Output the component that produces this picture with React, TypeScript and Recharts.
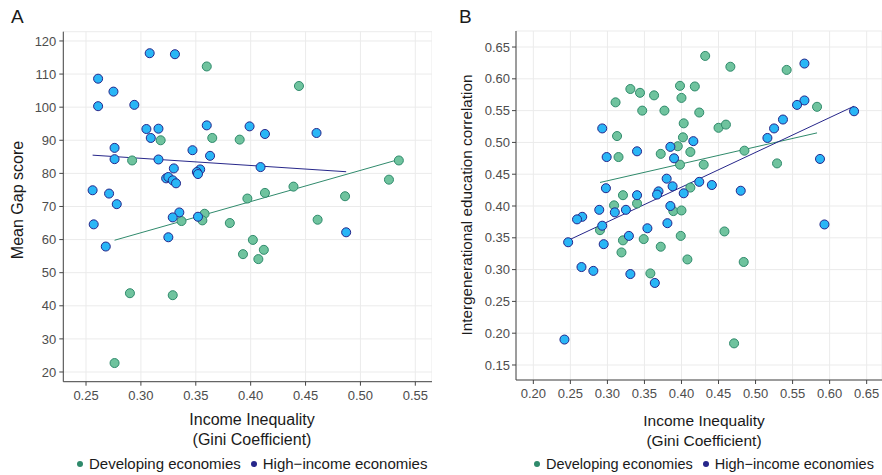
import {
  CartesianGrid,
  ReferenceLine,
  Scatter,
  ScatterChart,
  XAxis,
  YAxis,
} from "recharts";

// Panel A: Gini vs mean gap score
const giniDevA = [
  0.36, 0.444, 0.318, 0.365, 0.39, 0.292, 0.535, 0.526, 0.439, 0.413, 0.397, 0.486,
  0.358, 0.356, 0.337, 0.381, 0.461, 0.402, 0.393, 0.412, 0.407, 0.29, 0.329, 0.276,
];
const gapDevA = [
  112.3, 106.4, 90.0, 90.7, 90.2, 83.9, 83.9, 78.1, 76.0, 74.1, 72.4, 73.1,
  67.8, 65.8, 65.6, 65.0, 66.0, 59.9, 55.6, 56.9, 54.1, 43.8, 43.2, 22.7,
];
const giniHighA = [
  0.308, 0.331, 0.261, 0.275, 0.261, 0.294, 0.305, 0.316, 0.309, 0.36, 0.399, 0.413,
  0.46, 0.276, 0.276, 0.316, 0.347, 0.363, 0.33, 0.409, 0.354, 0.351, 0.352, 0.323,
  0.325, 0.329, 0.332, 0.256, 0.271, 0.278, 0.335, 0.329, 0.352, 0.257, 0.325, 0.487,
  0.268,
];
const gapHighA = [
  116.3, 116.0, 108.6, 104.7, 100.3, 100.7, 93.4, 93.5, 90.7, 94.5, 94.2, 91.9,
  92.2, 87.7, 84.3, 84.2, 87.0, 85.3, 81.5, 81.9, 81.2, 80.4, 79.8, 78.5,
  78.9, 77.9, 77.0, 74.9, 73.9, 70.7, 68.2, 66.7, 66.9, 64.6, 60.7, 62.2,
  57.9,
];
const fitDevA = [
  { x: 0.276, y: 59.8 },
  { x: 0.535, y: 84.2 },
];
const fitHighA = [
  { x: 0.256, y: 85.5 },
  { x: 0.487, y: 80.5 },
];
const xTicksA = [0.25, 0.3, 0.35, 0.4, 0.45, 0.5, 0.55];
const yTicksA = [20, 30, 40, 50, 60, 70, 80, 90, 100, 110, 120];

// Panel B: Gini vs intergenerational education correlation
const giniDevB = [
  0.432, 0.466, 0.542, 0.331, 0.344, 0.363, 0.398, 0.418, 0.4, 0.311, 0.347, 0.377,
  0.424, 0.583, 0.403, 0.45, 0.46, 0.313, 0.402, 0.395, 0.315, 0.372, 0.412, 0.485,
  0.398, 0.43, 0.529, 0.412, 0.321, 0.34, 0.309, 0.389, 0.4, 0.458, 0.399, 0.29,
  0.321, 0.349, 0.319, 0.372, 0.408, 0.358, 0.484, 0.471,
];
const corrDevB = [
  0.636, 0.619, 0.614, 0.584, 0.578, 0.574, 0.589, 0.588, 0.57, 0.563, 0.55, 0.55,
  0.547, 0.556, 0.53, 0.523, 0.528, 0.51, 0.508, 0.494, 0.477, 0.482, 0.485, 0.487,
  0.465, 0.465, 0.467, 0.429, 0.417, 0.404, 0.401, 0.392, 0.393, 0.36, 0.353, 0.362,
  0.346, 0.348, 0.327, 0.336, 0.316, 0.294, 0.312, 0.184,
];
const giniHighB = [
  0.566, 0.566, 0.556, 0.537, 0.525, 0.516, 0.633, 0.587, 0.293, 0.299, 0.34, 0.385,
  0.39, 0.416, 0.38, 0.424, 0.441, 0.388, 0.298, 0.369, 0.367, 0.34, 0.403, 0.48,
  0.385, 0.289, 0.325, 0.31, 0.266, 0.259, 0.293, 0.354, 0.381, 0.329, 0.593, 0.247,
  0.295, 0.265, 0.281, 0.331, 0.364, 0.242,
];
const corrHighB = [
  0.624, 0.566, 0.559, 0.536, 0.522, 0.507, 0.549, 0.474, 0.522, 0.477, 0.486, 0.493,
  0.475, 0.502, 0.443, 0.438, 0.433, 0.431, 0.428, 0.423, 0.418, 0.417, 0.42, 0.424,
  0.4, 0.394, 0.394, 0.39, 0.383, 0.379, 0.369, 0.365, 0.373, 0.353, 0.371, 0.343,
  0.34, 0.304, 0.298, 0.293, 0.279, 0.19,
];
const fitDevB = [
  { x: 0.29, y: 0.437 },
  { x: 0.583, y: 0.515 },
];
const fitHighB = [
  { x: 0.247, y: 0.346 },
  { x: 0.633, y: 0.557 },
];
const xTicksB = [0.2, 0.25, 0.3, 0.35, 0.4, 0.45, 0.5, 0.55, 0.6, 0.65];
const yTicksB = [0.15, 0.2, 0.25, 0.3, 0.35, 0.4, 0.45, 0.5, 0.55, 0.6, 0.65];

const zip = (xs: number[], ys: number[]) => xs.map((x, i) => ({ x, y: ys[i] }));

const FONT = "'Liberation Sans', Arial, Helvetica, sans-serif";
const GREEN_FILL = "#6fc39e";
const GREEN_LINE = "#2f8a6b";
const BLUE_FILL = "#29b6f6";
const BLUE_LINE = "#26268a";
const GRID = "#ebebeb";
const AXIS = "#444444";
const tick = { fill: "#4d4d4d", fontSize: 13, fontFamily: FONT };

const text = (extra: React.CSSProperties): React.CSSProperties => ({
  position: "absolute",
  fontFamily: FONT,
  color: "#1a1a1a",
  whiteSpace: "nowrap",
  ...extra,
});

function Legend({ left, size }: { left: number; size: number }) {
  const dot = (color: string): React.CSSProperties => ({
    display: "inline-block",
    width: 6,
    height: 6,
    borderRadius: 3,
    background: color,
    marginRight: 6,
    verticalAlign: "middle",
    position: "relative",
    top: -1,
  });
  return (
    <div style={text({ left, top: 455, fontSize: size, lineHeight: "18px" })}>
      <span style={dot(GREEN_LINE)} />
      Developing economies
      <span style={{ ...dot(BLUE_LINE), marginLeft: 10 }} />
      High−income economies
    </div>
  );
}

export default function App() {
  const devA = zip(giniDevA, gapDevA);
  const highA = zip(giniHighA, gapHighA);
  const devB = zip(giniDevB, corrDevB);
  const highB = zip(giniHighB, corrHighB);

  return (
    <div style={{ position: "absolute", left: 0, top: 0, width: 882, height: 475, background: "#fff" }}>
      <div style={{ position: "absolute", left: 0, top: 0 }}>
        <ScatterChart width={432} height={411.7} margin={{ top: 31.7, right: 0, bottom: 0, left: 0 }}>
          <CartesianGrid stroke={GRID} strokeWidth={1} />
          <XAxis
            type="number"
            dataKey="x"
            domain={[0.2293, 0.5652]}
            ticks={xTicksA}
            interval={0}
            allowDataOverflow
            height={30}
            tick={tick}
            tickSize={4}
            tickMargin={5}
            stroke={AXIS}
            tickFormatter={(v: number) => v.toFixed(2)}
          />
          <YAxis
            type="number"
            dataKey="y"
            domain={[17.07, 122.8]}
            ticks={yTicksA}
            interval={0}
            allowDataOverflow
            width={63.3}
            tick={tick}
            tickSize={4}
            tickMargin={3}
            stroke={AXIS}
          />
          <Scatter data={devA} fill={GREEN_FILL} stroke={GREEN_LINE} strokeWidth={1} isAnimationActive={false} />
          <Scatter data={highA} fill={BLUE_FILL} stroke={BLUE_LINE} strokeWidth={1} isAnimationActive={false} />
          <ReferenceLine segment={fitDevA} stroke={GREEN_LINE} strokeWidth={1} ifOverflow="visible" />
          <ReferenceLine segment={fitHighA} stroke={BLUE_LINE} strokeWidth={1} ifOverflow="visible" />
        </ScatterChart>
      </div>

      <div style={{ position: "absolute", left: 440, top: 0 }}>
        <ScatterChart width={442} height={410} margin={{ top: 31, right: 0, bottom: 0, left: 0 }}>
          <CartesianGrid stroke={GRID} strokeWidth={1} />
          <XAxis
            type="number"
            dataKey="x"
            domain={[0.1766, 0.6707]}
            ticks={xTicksB}
            interval={0}
            allowDataOverflow
            height={30}
            tick={tick}
            tickSize={4}
            tickMargin={5}
            stroke={AXIS}
            tickFormatter={(v: number) => v.toFixed(2)}
          />
          <YAxis
            type="number"
            dataKey="y"
            domain={[0.1264, 0.6752]}
            ticks={yTicksB}
            interval={0}
            allowDataOverflow
            width={76}
            tick={tick}
            tickSize={4}
            tickMargin={2}
            stroke={AXIS}
            tickFormatter={(v: number) => v.toFixed(2)}
          />
          <Scatter data={devB} fill={GREEN_FILL} stroke={GREEN_LINE} strokeWidth={1} isAnimationActive={false} />
          <Scatter data={highB} fill={BLUE_FILL} stroke={BLUE_LINE} strokeWidth={1} isAnimationActive={false} />
          <ReferenceLine segment={fitDevB} stroke={GREEN_LINE} strokeWidth={1} ifOverflow="visible" />
          <ReferenceLine segment={fitHighB} stroke={BLUE_LINE} strokeWidth={1} ifOverflow="visible" />
        </ScatterChart>
      </div>

      {/* panel letters */}
      <div style={text({ left: 11, top: 6, fontSize: 19, lineHeight: "22px" })}>A</div>
      <div style={text({ left: 459, top: 6, fontSize: 19, lineHeight: "22px" })}>B</div>

      {/* y titles */}
      <div
        style={text({
          left: 18,
          top: 200,
          fontSize: 16,
          lineHeight: "18px",
          transform: "translate(-50%, -50%) rotate(-90deg)",
        })}
      >
        Mean Gap score
      </div>
      <div
        style={text({
          left: 467,
          top: 205,
          fontSize: 15.3,
          lineHeight: "18px",
          transform: "translate(-50%, -50%) rotate(-90deg)",
        })}
      >
        Intergenerational education correlation
      </div>

      {/* x titles */}
      <div style={text({ left: 152, width: 200, top: 410, fontSize: 16, lineHeight: "20px", textAlign: "center" })}>
        Income Inequality
        <br />
        (Gini Coefficient)
      </div>
      <div style={text({ left: 604, width: 200, top: 411, fontSize: 15.5, lineHeight: "20px", textAlign: "center" })}>
        Income Inequality
        <br />
        (Gini Coefficient)
      </div>

      <Legend left={77} size={15} />
      <Legend left={534} size={14.5} />
    </div>
  );
}
